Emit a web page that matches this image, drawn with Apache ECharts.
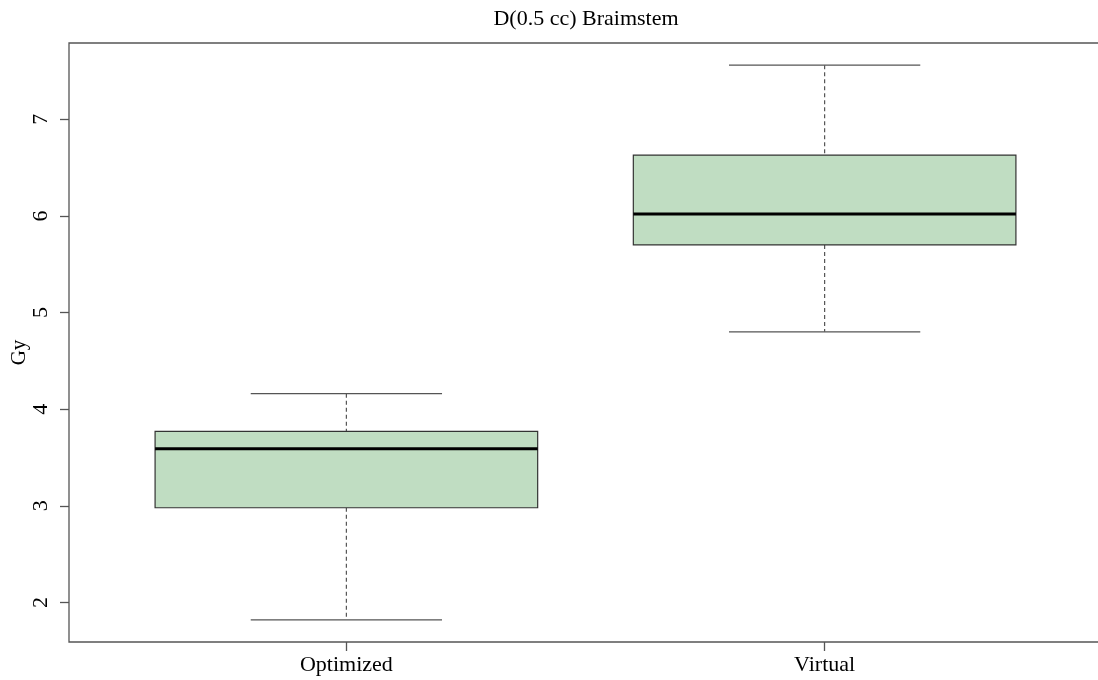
<!DOCTYPE html>
<html>
<head>
<meta charset="utf-8">
<script src="https://cdn.jsdelivr.net/npm/echarts@6/dist/echarts.min.js"></script>
<style>
  html, body { margin: 0; padding: 0; background: #fff; }
  #chart { width: 1098px; height: 680px; }
</style>
</head>
<body>
<div id="chart"></div>
<script>
// ---- data ----
const categories = ['Optimized', 'Virtual'];
const whiskerLow  = [1.82, 4.80];
const quartile1   = [2.98, 5.70];
const medians     = [3.59, 6.02];
const quartile3   = [3.77, 6.63];
const whiskerHigh = [4.16, 7.56];
const yTickValues = [2, 3, 4, 5, 6, 7];
const titleText = 'D(0.5 cc) Braimstem';
const yLabel = 'Gy';

// R-style axis ranges (4% extension)
const dMin = Math.min.apply(null, whiskerLow);
const dMax = Math.max.apply(null, whiskerHigh);
const ext = (dMax - dMin) * 0.04;
const yMin = dMin - ext, yMax = dMax + ext;
const xLo = 0.5 - categories.length * 0.04, xHi = categories.length + 0.5 + categories.length * 0.04;

const boxData = categories.map((c, i) => [i + 1, whiskerLow[i], quartile1[i], medians[i], quartile3[i], whiskerHigh[i]]);

const BOX_W = 0.8;
const FONT = '"Liberation Serif", "DejaVu Serif", serif';

const chart = echarts.init(document.getElementById('chart'), null, { renderer: 'canvas' });
chart.setOption({
  animation: false,
  backgroundColor: '#ffffff',
  title: {
    text: titleText,
    left: 586, top: 8, textAlign: 'center', padding: 0,
    textStyle: { fontFamily: FONT, fontSize: 22, fontWeight: 'normal', color: '#000' }
  },
  grid: {
    left: 69, top: 43, right: -4, bottom: 38,
    containLabel: false, outerBoundsMode: 'none',
    show: true, borderColor: '#555', borderWidth: 1.3, backgroundColor: 'transparent'
  },
  xAxis: {
    type: 'value', min: xLo, max: xHi,
    splitLine: { show: false },
    axisLine: { show: false },
    axisTick: { show: true, customValues: categories.map((c, i) => i + 1), length: 9, lineStyle: { color: '#555', width: 1.3 } },
    axisLabel: {
      customValues: categories.map((c, i) => i + 1),
      formatter: v => categories[Math.round(v) - 1] || '',
      margin: 12, fontFamily: FONT, fontSize: 22, color: '#000'
    }
  },
  yAxis: {
    type: 'value', min: yMin, max: yMax,
    name: yLabel, nameLocation: 'middle', nameGap: 39, nameRotate: 90, nameMoveOverlap: false,
    nameTextStyle: { fontFamily: FONT, fontSize: 21, color: '#000', padding: [0, 20, 0, 0] },
    splitLine: { show: false },
    axisLine: { show: false },
    axisTick: { show: true, customValues: yTickValues, length: 9, lineStyle: { color: '#555', width: 1.3 } },
    axisLabel: {
      customValues: yTickValues, rotate: 90, margin: 17,
      fontFamily: FONT, fontSize: 22, color: '#000'
    }
  },
  series: [{
    type: 'custom',
    data: boxData,
    encode: { x: 0, y: [1, 2, 3, 4, 5] },
    renderItem: function (params, api) {
      const x = api.value(0);
      const lo = api.value(1), q1 = api.value(2), med = api.value(3), q3 = api.value(4), hi = api.value(5);
      const h = BOX_W / 2, ch = BOX_W / 4;
      const tl = api.coord([x - h, q3]);
      const br = api.coord([x + h, q1]);
      const mL = api.coord([x - h, med]), mR = api.coord([x + h, med]);
      const cHiL = api.coord([x - ch, hi]), cHiR = api.coord([x + ch, hi]);
      const cLoL = api.coord([x - ch, lo]), cLoR = api.coord([x + ch, lo]);
      const cx = api.coord([x, hi])[0];
      const yHi = api.coord([x, hi])[1], yLo = api.coord([x, lo])[1];
      const dash = { stroke: '#555', lineWidth: 1.2, lineDash: [4, 3] };
      const solid = { stroke: '#555', lineWidth: 1.3 };
      return {
        type: 'group',
        children: [
          { type: 'line', shape: { x1: cx, y1: yHi, x2: cx, y2: tl[1] }, style: dash },
          { type: 'line', shape: { x1: cx, y1: br[1], x2: cx, y2: yLo }, style: dash },
          { type: 'line', shape: { x1: cHiL[0], y1: cHiL[1], x2: cHiR[0], y2: cHiR[1] }, style: solid },
          { type: 'line', shape: { x1: cLoL[0], y1: cLoL[1], x2: cLoR[0], y2: cLoR[1] }, style: solid },
          { type: 'rect', shape: { x: tl[0], y: tl[1], width: br[0] - tl[0], height: br[1] - tl[1] },
            style: { fill: '#c0ddc2', stroke: '#333', lineWidth: 1.2 } },
          { type: 'line', shape: { x1: mL[0], y1: mL[1], x2: mR[0], y2: mR[1] }, style: { stroke: '#000', lineWidth: 3 } }
        ]
      };
    }
  }]
});
</script>
</body>
</html>
